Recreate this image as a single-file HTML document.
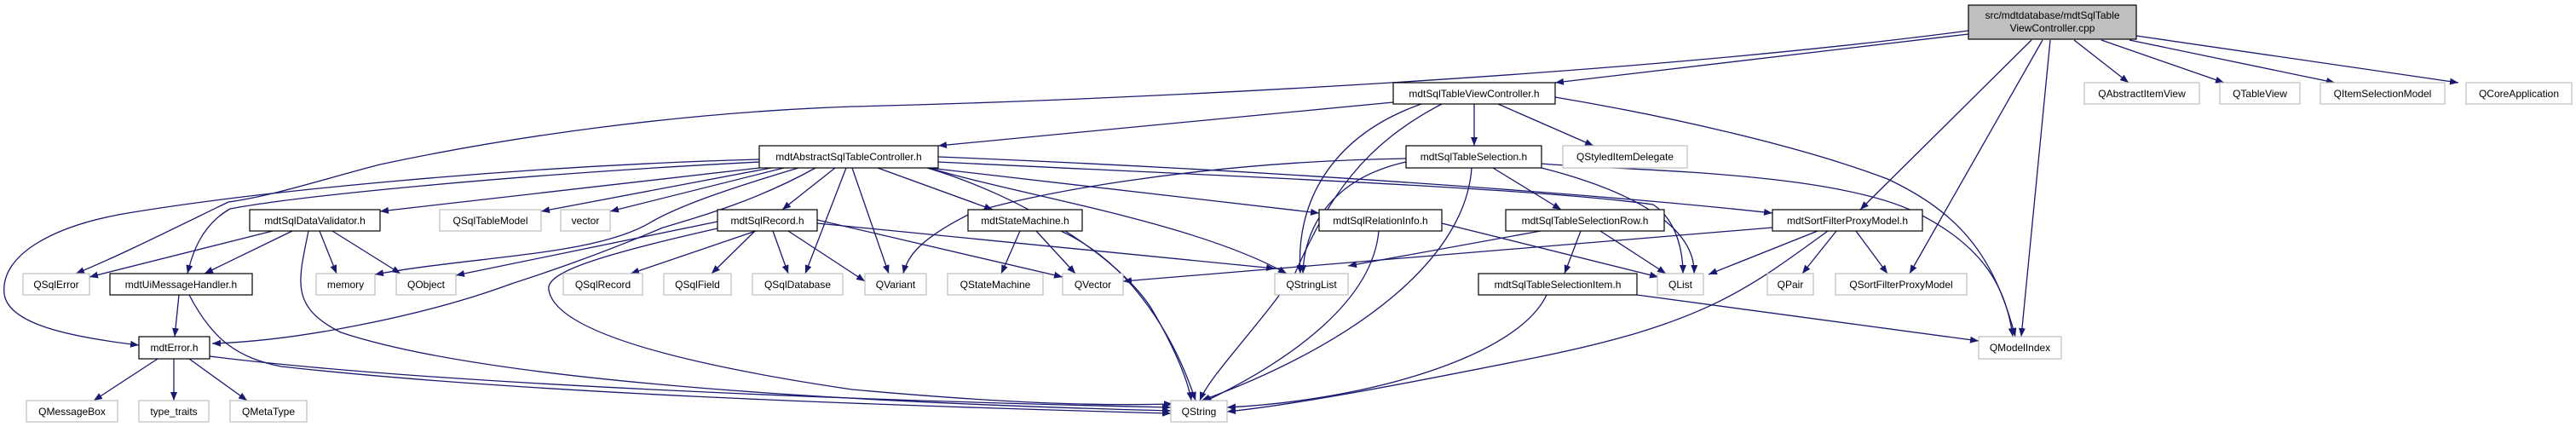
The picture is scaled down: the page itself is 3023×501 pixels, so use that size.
<!DOCTYPE html>
<html><head><meta charset="utf-8"><style>
html,body{margin:0;padding:0;background:#fff;}
svg{display:block;}
text{font-family:"Liberation Sans",sans-serif;font-size:12px;fill:#000;}
.e{fill:none;stroke:#191970;stroke-width:1.3;}
.b{fill:#fff;stroke:#000;stroke-width:1.2;}
.g{fill:#fff;stroke:#bfbfbf;stroke-width:1.2;}
</style></head><body>
<svg width="3023" height="501" viewBox="0 0 3023 501" xmlns="http://www.w3.org/2000/svg">
<defs><marker id="a" viewBox="0 0 10 8" refX="10" refY="4" markerWidth="10" markerHeight="8" markerUnits="userSpaceOnUse" orient="auto"><path d="M0,0L10,4L0,8z" fill="#191970"/></marker></defs>
<g class="e" marker-end="url(#a)">
<!-- cpp -->
<path d="M2310,40 L1825,97"/>
<path d="M2310,36 C1900,90 1300,118 1000,125 C800,132 600,160 446,193 C380,210 320,230 268,237 C200,270 140,300 89,321"/>
<path d="M2384,47 L2183,246"/>
<path d="M2397,47 L2241,321"/>
<path d="M2406,47 L2372,395"/>
<path d="M2434,47 L2498,97"/>
<path d="M2466,47 L2610,97"/>
<path d="M2499,47 L2740,97"/>
<path d="M2507,42 L2885,97"/>
<!-- TableViewController -->
<path d="M1635,120 L1101,171"/>
<path d="M1692,122 C1600,170 1560,230 1520,320 C1480,380 1420,440 1408,470"/>
<path d="M1668,122 C1560,160 1520,240 1526,321"/>
<path d="M1730,122 L1730,171"/>
<path d="M1758,122 L1870,171"/>
<path d="M1825,114 C1950,135 2110,170 2215,210 C2300,250 2340,300 2365,395"/>
<!-- AbstractSqlTableController -->
<path d="M891,187 C600,195 300,225 150,250 C60,265 0,300 5,345 C10,380 80,395 163,405"/>
<path d="M891,190 C600,205 350,230 270,245 C235,265 225,300 220,321"/>
<path d="M891,197 L446,248"/>
<path d="M905,197 L635,248"/>
<path d="M920,197 L716,248"/>
<path d="M937,197 C860,220 800,240 765,260 C700,300 560,300 440,322"/>
<path d="M957,197 C880,240 800,260 778,267 C700,300 640,320 600,333 C500,370 350,400 249,403"/>
<path d="M980,197 L918,246"/>
<path d="M993,197 L945,321"/>
<path d="M1000,197 L1043,321"/>
<path d="M1030,197 L1165,246"/>
<path d="M1088,197 C1200,230 1310,300 1350,360 C1380,410 1395,450 1398,470"/>
<path d="M1090,197 C1200,230 1400,260 1510,321"/>
<path d="M1090,197 L1548,250"/>
<path d="M1101,190 C1400,205 1800,220 1940,240 C1970,260 1975,300 1975,321"/>
<path d="M1101,184 C1500,200 1900,230 2080,250"/>
<!-- TableSelection -->
<path d="M1650,186 C1400,190 1200,230 1140,250 C1080,280 1065,300 1060,321"/>
<path d="M1650,190 C1560,210 1530,270 1529,321"/>
<path d="M1727,197 C1720,300 1600,400 1410,470"/>
<path d="M1752,197 L1832,246"/>
<path d="M1809,197 C1900,220 1990,260 1988,321"/>
<path d="M1809,192 C1900,200 2150,200 2250,250 C2330,290 2355,340 2362,395"/>
<!-- DataValidator -->
<path d="M320,271 L105,325"/>
<path d="M343,271 L240,321"/>
<path d="M375,271 L395,321"/>
<path d="M390,271 L470,321"/>
<path d="M362,271 C350,330 340,360 400,390 C550,440 900,470 1374,482"/>
<!-- UiMessageHandler -->
<path d="M210,346 L205,395"/>
<path d="M222,346 C250,400 280,420 330,430 C600,460 1000,475 1374,485"/>
<!-- mdtError -->
<path d="M185,421 L110,470"/>
<path d="M204,421 L204,470"/>
<path d="M222,421 L290,470"/>
<path d="M246,418 C500,450 1000,470 1374,478"/>
<!-- SqlRecord -->
<path d="M842,260 L535,323"/>
<path d="M887,271 L740,321"/>
<path d="M886,271 L835,321"/>
<path d="M907,271 L925,321"/>
<path d="M925,271 L1015,330"/>
<path d="M959,258 L1247,325"/>
<path d="M959,262 L1496,315"/>
<path d="M842,268 C700,300 640,320 644,340 C650,380 750,420 1000,457 C1200,475 1300,476 1376,474"/>
<!-- StateMachine -->
<path d="M1197,271 L1175,321"/>
<path d="M1216,271 L1262,321"/>
<path d="M1245,271 C1330,310 1380,400 1403,470"/>
<!-- RelationInfo -->
<path d="M1618,271 C1610,360 1500,430 1412,472"/>
<path d="M1692,262 L1946,325"/>
<!-- SelectionRow -->
<path d="M1808,271 L1582,312"/>
<path d="M1855,271 L1836,321"/>
<path d="M1878,271 L1955,321"/>
<!-- SelectionItem -->
<path d="M1815,346 C1780,420 1600,470 1440,478"/>
<path d="M1921,346 L2322,400"/>
<!-- SortFilterProxyModel -->
<path d="M2080,267 L1318,330"/>
<path d="M2133,271 L2005,322"/>
<path d="M2145,271 C2050,340 2000,380 1800,420 C1650,450 1520,475 1440,483"/>
<path d="M2155,271 L2115,321"/>
<path d="M2178,271 L2215,321"/>
</g>
<!-- nodes -->
<rect x="2310" y="6" width="197" height="40" fill="#bfbfbf" stroke="#000" stroke-width="1.2"/>
<text x="2408.5" y="22" text-anchor="middle">src/mdtdatabase/mdtSqlTable</text>
<text x="2408.5" y="37" text-anchor="middle">ViewController.cpp</text>
<g text-anchor="middle">
<rect class="b" x="1635" y="97" width="190" height="25"/><text x="1730" y="114">mdtSqlTableViewController.h</text>
<rect class="g" x="2446" y="97" width="135" height="25"/><text x="2513.5" y="114">QAbstractItemView</text>
<rect class="g" x="2605" y="97" width="94" height="25"/><text x="2652" y="114">QTableView</text>
<rect class="g" x="2723" y="97" width="146" height="25"/><text x="2796" y="114">QItemSelectionModel</text>
<rect class="g" x="2894" y="97" width="124" height="25"/><text x="2956" y="114">QCoreApplication</text>

<rect class="b" x="891" y="171" width="210" height="26"/><text x="996" y="188">mdtAbstractSqlTableController.h</text>
<rect class="b" x="1650" y="171" width="159" height="26"/><text x="1729.5" y="188">mdtSqlTableSelection.h</text>
<rect class="g" x="1834" y="171" width="146" height="26"/><text x="1907" y="188">QStyledItemDelegate</text>

<rect class="b" x="293" y="246" width="153" height="25"/><text x="369.5" y="263">mdtSqlDataValidator.h</text>
<rect class="g" x="516" y="246" width="119" height="25"/><text x="575.5" y="263">QSqlTableModel</text>
<rect class="g" x="658" y="246" width="58" height="25"/><text x="687" y="263">vector</text>
<rect class="b" x="842" y="246" width="117" height="25"/><text x="900.5" y="263">mdtSqlRecord.h</text>
<rect class="b" x="1136" y="246" width="134" height="25"/><text x="1203" y="263">mdtStateMachine.h</text>
<rect class="b" x="1548" y="246" width="144" height="25"/><text x="1620" y="263">mdtSqlRelationInfo.h</text>
<rect class="b" x="1767" y="246" width="186" height="25"/><text x="1860" y="263">mdtSqlTableSelectionRow.h</text>
<rect class="b" x="2080" y="246" width="176" height="25"/><text x="2168" y="263">mdtSortFilterProxyModel.h</text>

<rect class="g" x="27" y="321" width="78" height="25"/><text x="66" y="338">QSqlError</text>
<rect class="b" x="129" y="321" width="167" height="25"/><text x="212.5" y="338">mdtUiMessageHandler.h</text>
<rect class="g" x="371" y="321" width="69" height="25"/><text x="405.5" y="338">memory</text>
<rect class="g" x="465" y="321" width="70" height="25"/><text x="500" y="338">QObject</text>
<rect class="g" x="661" y="321" width="93" height="25"/><text x="707.5" y="338">QSqlRecord</text>
<rect class="g" x="779" y="321" width="79" height="25"/><text x="818.5" y="338">QSqlField</text>
<rect class="g" x="883" y="321" width="106" height="25"/><text x="936" y="338">QSqlDatabase</text>
<rect class="g" x="1015" y="321" width="72" height="25"/><text x="1051" y="338">QVariant</text>
<rect class="g" x="1112" y="321" width="112" height="25"/><text x="1168" y="338">QStateMachine</text>
<rect class="g" x="1247" y="321" width="71" height="25"/><text x="1282.5" y="338">QVector</text>
<rect class="g" x="1496" y="321" width="86" height="25"/><text x="1539" y="338">QStringList</text>
<rect class="b" x="1735" y="321" width="186" height="25"/><text x="1828" y="338">mdtSqlTableSelectionItem.h</text>
<rect class="g" x="1945" y="321" width="54" height="25"/><text x="1972" y="338">QList</text>
<rect class="g" x="2074" y="321" width="54" height="25"/><text x="2101" y="338">QPair</text>
<rect class="g" x="2154" y="321" width="154" height="25"/><text x="2231" y="338">QSortFilterProxyModel</text>

<rect class="b" x="163" y="395" width="83" height="26"/><text x="204.5" y="412">mdtError.h</text>
<rect class="g" x="2322" y="395" width="97" height="26"/><text x="2370.5" y="412">QModelIndex</text>

<rect class="g" x="31" y="470" width="107" height="25"/><text x="84.5" y="487">QMessageBox</text>
<rect class="g" x="163" y="470" width="82" height="25"/><text x="204" y="487">type_traits</text>
<rect class="g" x="270" y="470" width="90" height="25"/><text x="315" y="487">QMetaType</text>
<rect class="g" x="1374" y="470" width="66" height="25"/><text x="1407" y="487">QString</text>
</g>
</svg>
</body></html>
